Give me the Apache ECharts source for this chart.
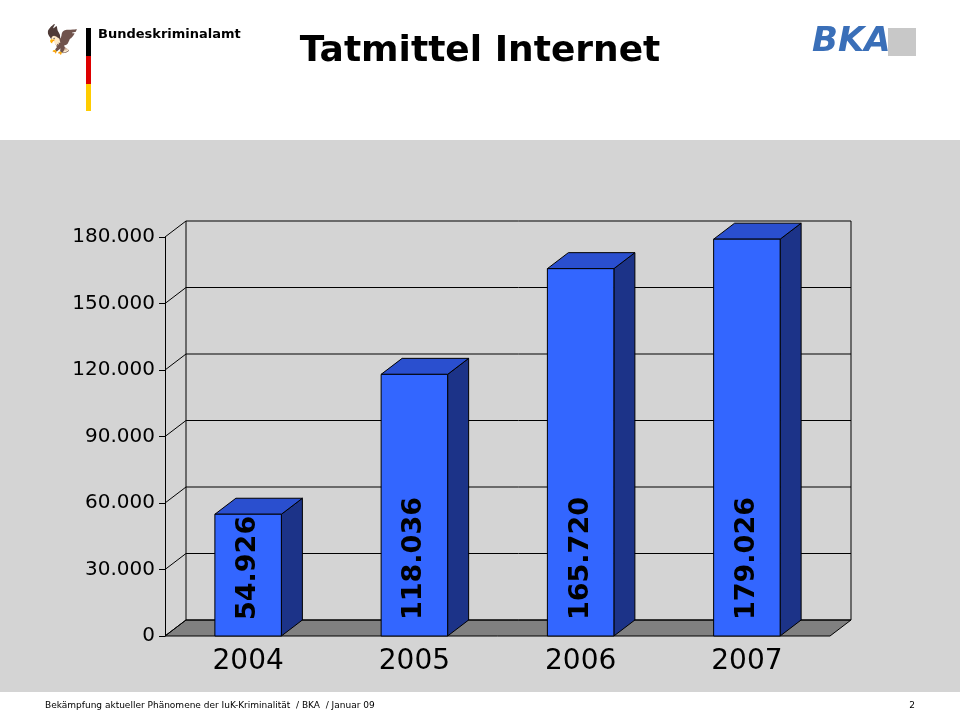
<!DOCTYPE html>
<html><head><meta charset="utf-8">
<script src="https://cdn.jsdelivr.net/npm/echarts@6/dist/echarts.min.js"></script>
<style>html,body{margin:0;padding:0;background:#fff}#c{width:960px;height:720px}</style>
</head><body><div id="c"></div>
<script>
const categories = ['2004','2005','2006','2007'];
const values = [54926, 118036, 165720, 179026];
const valueLabels = ['54.926','118.036','165.720','179.026'];
const yTicks = [0,30000,60000,90000,120000,150000,180000];

const DX = 21, DY = -16;
const chart = echarts.init(document.getElementById('c'));
function fmt(v){ return v===0?'0':(v/1000).toFixed(0)+'.000'; }

chart.setOption({
  backgroundColor:'#fff',
  animation:false,
  graphic:[
    {type:'rect',shape:{x:0,y:140,width:960,height:552},style:{fill:'#d4d4d4'},z:-10},
    {type:'rect',shape:{x:86,y:28,width:5,height:28},style:{fill:'#000'}},
    {type:'rect',shape:{x:86,y:56,width:5,height:28},style:{fill:'#dd0000'}},
    {type:'rect',shape:{x:86,y:84,width:5,height:27},style:{fill:'#ffcc00'}},
    {type:'text',x:98,y:28,style:{text:'Bundeskriminalamt',font:'bold 13px "DejaVu Sans"',fill:'#000'}},
    {type:'text',x:62,y:42,style:{text:'🦅',font:'28px "DejaVu Sans"',fill:'#000',align:'center',verticalAlign:'middle'}},
    {type:'text',x:480,y:52,style:{text:'Tatmittel Internet',font:'bold 36px "DejaVu Sans"',fill:'#000',align:'center',verticalAlign:'middle'}},
    {type:'text',x:812,y:42,style:{text:'BKA',font:'italic bold 34px "DejaVu Sans"',fill:'#3a6fb8',verticalAlign:'middle'}},
    {type:'rect',shape:{x:888,y:28,width:28,height:28},style:{fill:'#c8c8c8'}},
    {type:'text',x:45,y:706,style:{text:'Bekämpfung aktueller Phänomene der IuK-Kriminalität  / BKA  / Januar 09',font:'9px "DejaVu Sans"',fill:'#000',verticalAlign:'middle'}},
    {type:'text',x:915,y:706,style:{text:'2',font:'9px "DejaVu Sans"',fill:'#000',align:'right',verticalAlign:'middle'}}
  ],
  grid:{left:165,right:130,top:237,bottom:84},
  xAxis:{type:'category',data:categories,axisLine:{show:false},axisTick:{show:false},
    axisLabel:{fontSize:28,color:'#000',fontFamily:'DejaVu Sans',margin:12}},
  yAxis:{type:'value',min:0,max:180000,interval:30000,
    axisLine:{show:true,lineStyle:{color:'#000'}},axisTick:{show:true,length:6,lineStyle:{color:'#000'}},
    splitLine:{show:false},
    axisLabel:{formatter:fmt,fontSize:20,color:'#000',fontFamily:'DejaVu Sans',margin:10}},
  series:[
    {type:'custom',data:[0],z:1,renderItem:function(params,api){
      const cs=params.coordSys; const L=cs.x, R=cs.x+cs.width;
      const ch=[];
      const b=api.coord([0,0])[1];
      ch.push({type:'polygon',shape:{points:[[L,b],[R,b],[R+DX,b+DY],[L+DX,b+DY]]},style:{fill:'#808080',stroke:'#000',lineWidth:1}});
      const top=api.coord([0,180000])[1];
      yTicks.forEach(t=>{
        const y=api.coord([0,t])[1];
        ch.push({type:'polyline',shape:{points:[[L,y],[L+DX,y+DY],[R+DX,y+DY]]},style:{stroke:'#000',lineWidth:1,fill:null}});
      });
      ch.push({type:'line',shape:{x1:L+DX,y1:b+DY,x2:L+DX,y2:top+DY},style:{stroke:'#000',lineWidth:1}});
      ch.push({type:'line',shape:{x1:R+DX,y1:b+DY,x2:R+DX,y2:top+DY},style:{stroke:'#000',lineWidth:1}});
      return {type:'group',children:ch};
    }},
    {type:'custom',data:values.map((v,i)=>[i,v]),z:2,renderItem:function(params,api){
      const i=api.value(0), v=api.value(1);
      const p=api.coord([i,v]), b=api.coord([i,0]);
      const w=api.size([1,0])[0]*0.4;
      const x0=p[0]-w/2, x1=p[0]+w/2, yt=p[1], yb=b[1];
      const st={stroke:'#000',lineWidth:1};
      return {type:'group',children:[
        {type:'polygon',shape:{points:[[x1,yt],[x1+DX,yt+DY],[x1+DX,yb+DY],[x1,yb]]},style:Object.assign({fill:'#1c3388'},st)},
        {type:'polygon',shape:{points:[[x0,yt],[x1,yt],[x1+DX,yt+DY],[x0+DX,yt+DY]]},style:Object.assign({fill:'#2a4fcf'},st)},
        {type:'rect',shape:{x:x0,y:yt,width:w,height:yb-yt},style:Object.assign({fill:'#3366ff'},st)},
        {type:'text',x:p[0],y:yb-16,rotation:Math.PI/2,style:{text:valueLabels[params.dataIndex],font:'bold 27px "DejaVu Sans"',fill:'#000',align:'left',verticalAlign:'middle'}}
      ]};
    }}
  ]
});
</script></body></html>
